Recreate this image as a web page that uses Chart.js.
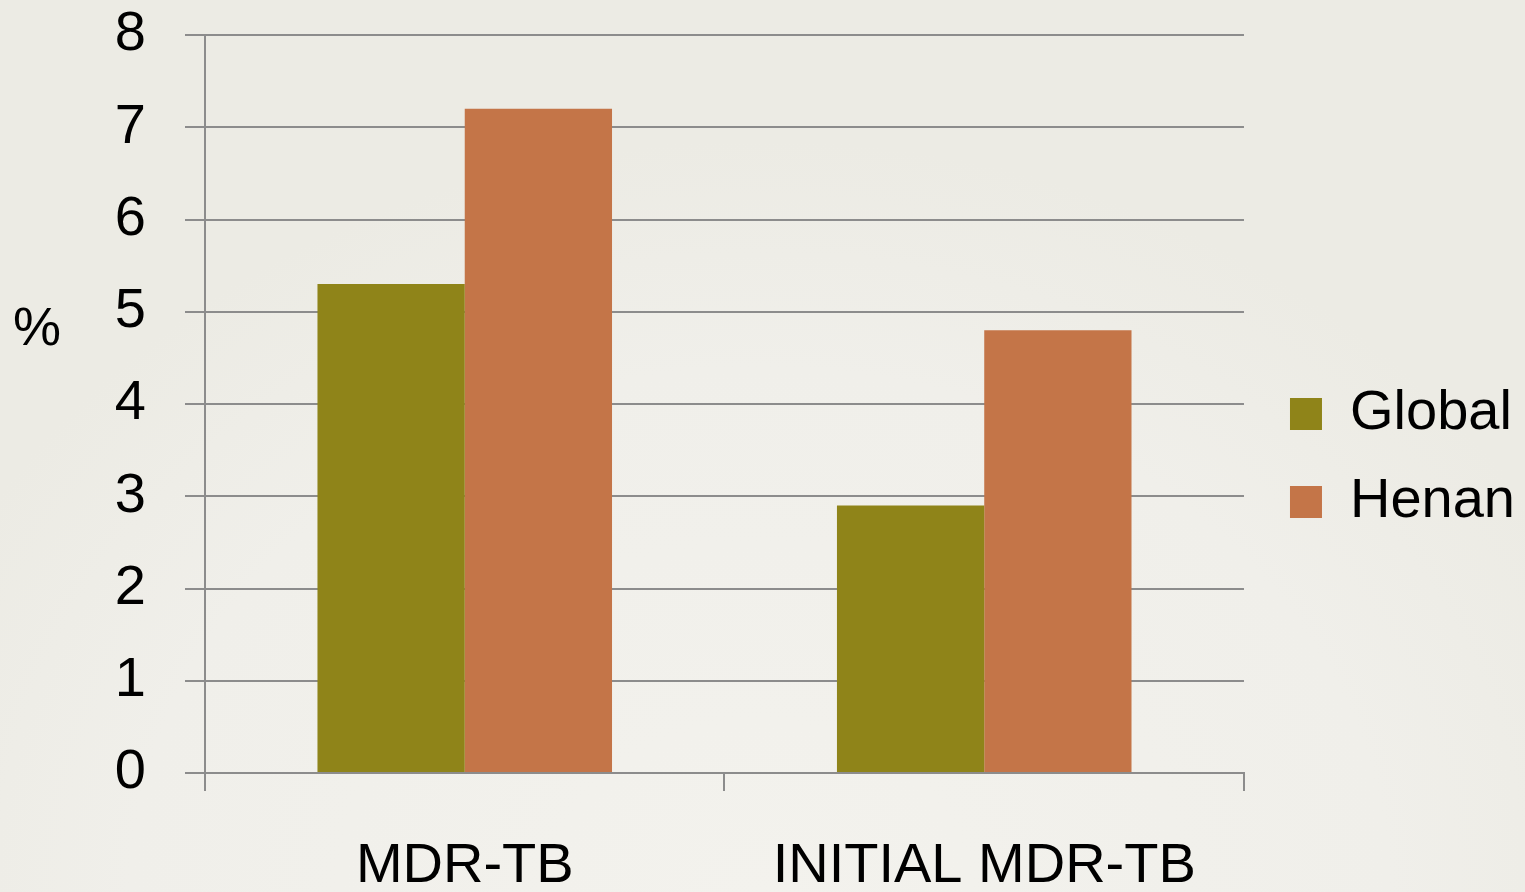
<!DOCTYPE html>
<html>
<head>
<meta charset="utf-8">
<script src="https://cdn.jsdelivr.net/npm/chart.js@4"></script>
<style>
  html, body { margin: 0; padding: 0; background: #eeede7; }
  #wrap { width: 1525px; height: 892px; position: relative;
    background: radial-gradient(ellipse 900px 760px at 760px 900px, #f3f2ed 0%, #f0efea 70%, #ecebe4 100%); }
</style>
</head>
<body>
<div id="wrap"><canvas id="c" width="1525" height="892"></canvas></div>
<script>
const categories = ['MDR-TB', 'INITIAL MDR-TB'];
const seriesNames = ['Global', 'Henan'];
const globalValues = [5.3, 2.9];
const henanValues = [7.2, 4.8];
const yMin = 0;
const yMax = 8;
const yStep = 1;
const yAxisLabel = '%';

const FONT = "'Liberation Sans', Arial, sans-serif";
const GRID = '#8c8c8c';

const axisLabelPlugin = {
  id: 'axisLabel',
  afterDraw(chart) {
    const ctx = chart.ctx;
    const y = chart.scales.y;
    ctx.save();
    ctx.font = '54px ' + FONT;
    ctx.fillStyle = '#000';
    ctx.textAlign = 'left';
    ctx.textBaseline = 'middle';
    ctx.fillText(yAxisLabel, 13, y.getPixelForValue(4.8));
    ctx.restore();
  }
};

new Chart(document.getElementById('c'), {
  type: 'bar',
  data: {
    labels: categories,
    datasets: [
      { label: seriesNames[0], data: globalValues, backgroundColor: '#8f8419', xAxisID: 'x', yAxisID: 'y' },
      { label: seriesNames[1], data: henanValues, backgroundColor: '#c47548', xAxisID: 'x', yAxisID: 'y' }
    ]
  },
  options: {
    responsive: false,
    animation: false,
    categoryPercentage: 0.567,
    barPercentage: 1.0,
    layout: { padding: { left: 15, top: 24, right: 0, bottom: 0 } },
    plugins: {
      tooltip: { enabled: false },
      legend: {
        position: 'right',
        align: 'center',
        maxWidth: 320,
        labels: {
          boxWidth: 32,
          boxHeight: 32,
          padding: 32,
          color: '#000',
          font: { size: 56, family: FONT }
        }
      }
    },
    scales: {
      x: {
        offset: true,
        afterFit(s) { s.height = 119; s.paddingLeft = 0; s.paddingRight = 0; },
        grid: { display: true, offset: true, drawOnChartArea: false, drawTicks: true, tickLength: 18, color: GRID, lineWidth: 2 },
        border: { display: true, color: GRID, width: 2 },
        ticks: { color: '#000', padding: 48, maxRotation: 0, font: { size: 56, family: FONT, lineHeight: 1 } }
      },
      y: {
        min: yMin, max: yMax,
        afterFit(s) { s.width = 190; s.paddingTop = 35; s.paddingBottom = 0; },
        grid: { color: GRID, lineWidth: 2, tickLength: 20, drawTicks: true },
        border: { display: true, color: GRID, width: 2 },
        ticks: { stepSize: yStep, color: '#000', padding: 39, font: { size: 56, family: FONT, lineHeight: 1.25 } }
      },
      gap: {
        type: 'linear',
        position: 'right',
        display: true,
        afterFit(s) { s.width = 14; s.paddingTop = 0; s.paddingBottom = 0; },
        grid: { display: false, drawTicks: false },
        border: { display: false },
        ticks: { display: false }
      }
    }
  },
  plugins: [axisLabelPlugin]
});
</script>
</body>
</html>
